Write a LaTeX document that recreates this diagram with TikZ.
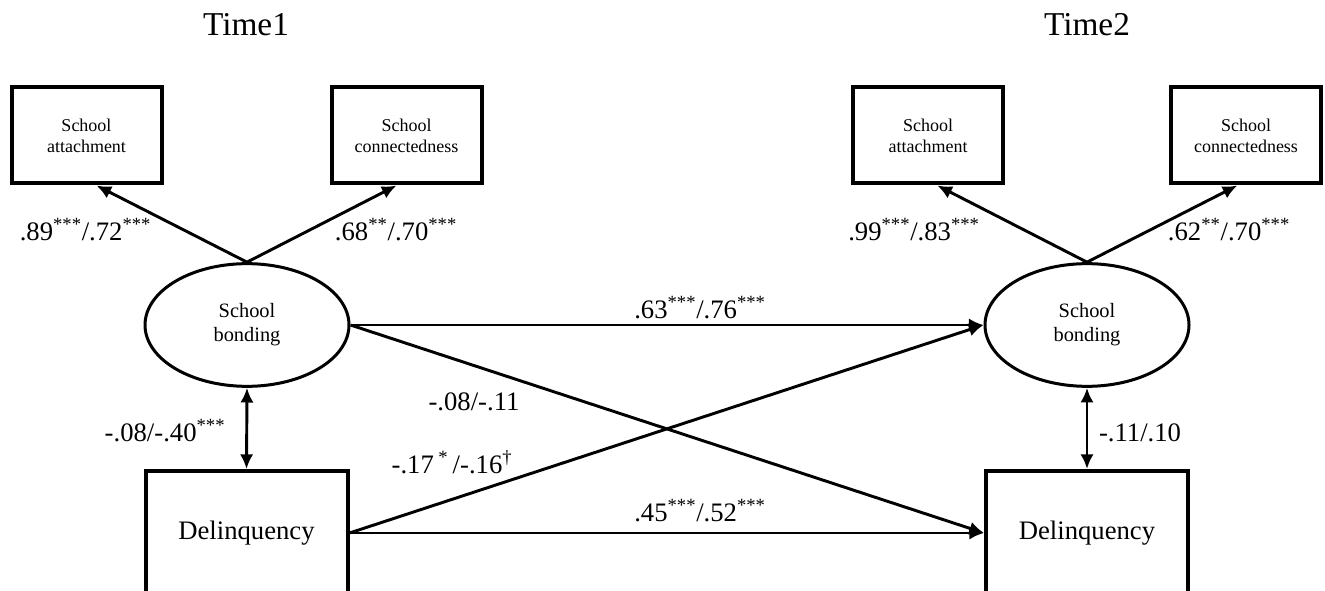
\documentclass[tikz,border=0pt]{standalone}
\usepackage{fontspec}
\setmainfont{Liberation Serif}
\usetikzlibrary{arrows.meta,shapes.geometric}

\begin{document}
\begin{tikzpicture}[x=0.75pt,y=-0.75pt]

\tikzstyle{indicator}=[draw,line width=3pt,minimum width=112.5pt,minimum height=72pt,inner sep=0pt,align=center,font=\fontsize{13.5}{15.8}\selectfont]
\tikzstyle{latent}=[draw,ellipse,line width=2.25pt,minimum width=153pt,minimum height=92pt,inner sep=0pt,align=center,font=\fontsize{15.3}{18}\selectfont]
\tikzstyle{outcome}=[draw,line width=3pt,minimum width=151.5pt,minimum height=93pt,inner sep=0pt,font=\fontsize{20}{24}\selectfont]
\tikzstyle{coef}=[anchor=base,inner sep=0pt,font=\fontsize{20}{24}\selectfont]
\tikzstyle{effect}=[line width=2.2pt,-{Latex[length=11pt,width=10pt]}]
\tikzstyle{covar}=[line width=2.2pt,{Latex[length=11pt,width=10pt]}-{Latex[length=11pt,width=10pt]}]

\useasboundingbox (0,0) rectangle (1325,591);

% Time1
\node (time1) at (246,25) [font=\fontsize{25}{30}\selectfont] {Time1};
\node (att1) at (86.5,135.5) [indicator] {School\\attachment};
\node (con1) at (406.5,135.5) [indicator] {School\\connectedness};
\node (bond1) at (247,325) [latent] {School\\bonding};
\node (delinq1) at (246.5,533) [outcome] {Delinquency};

% Time2
\node (time2) at (1087,25) [font=\fontsize{25}{30}\selectfont] {Time2};
\node (att2) at (928,135.5) [indicator] {School\\attachment};
\node (con2) at (1246,135.5) [indicator] {School\\connectedness};
\node (bond2) at (1087,325) [latent] {School\\bonding};
\node (delinq2) at (1087,533) [outcome] {Delinquency};

\draw [effect] (bond1.north) -- ([xshift=7.5pt]att1.south);
\draw [effect] (bond1.north) -- ([xshift=-7.5pt]con1.south);
\draw [effect] (bond2.north) -- ([xshift=7pt]att2.south);
\draw [effect] (bond2.north) -- ([xshift=-6.5pt]con2.south);

\draw [covar] (bond1.south) -- (delinq1.north);
\draw [covar] (bond2.south) -- (delinq2.north);

\draw [effect] (bond1.east) -- (bond2.west);
\draw [effect] (bond1.east) -- (delinq2.west);
\draw [effect] (delinq1.east) -- (bond2.west);
\draw [effect] (delinq1.east) -- (delinq2.west);

\node (load11) at (85.5,241) [coef] {.89\textsuperscript{***}/.72\textsuperscript{***}};
\node (load12) at (396,241) [coef] {.68\textsuperscript{**}/.70\textsuperscript{***}};
\node (load21) at (914,241) [coef] {.99\textsuperscript{***}/.83\textsuperscript{***}};
\node (load22) at (1229,241) [coef] {.62\textsuperscript{**}/.70\textsuperscript{***}};
\node (stab1) at (700,319) [coef] {.63\textsuperscript{***}/.76\textsuperscript{***}};
\node (stab2) at (700,522) [coef] {.45\textsuperscript{***}/.52\textsuperscript{***}};
\node (cross1) at (474,411) [coef] {-.08/-.11};
\node (cross2) at (452,474) [coef] {-.17\,\textsuperscript{*}\,/-.16\textsuperscript{\textdagger}};
\node (cov1) at (165,442) [coef] {-.08/-.40\textsuperscript{***}};
\node (cov2) at (1140,442) [coef] {-.11/.10};

\end{tikzpicture}
\end{document}
